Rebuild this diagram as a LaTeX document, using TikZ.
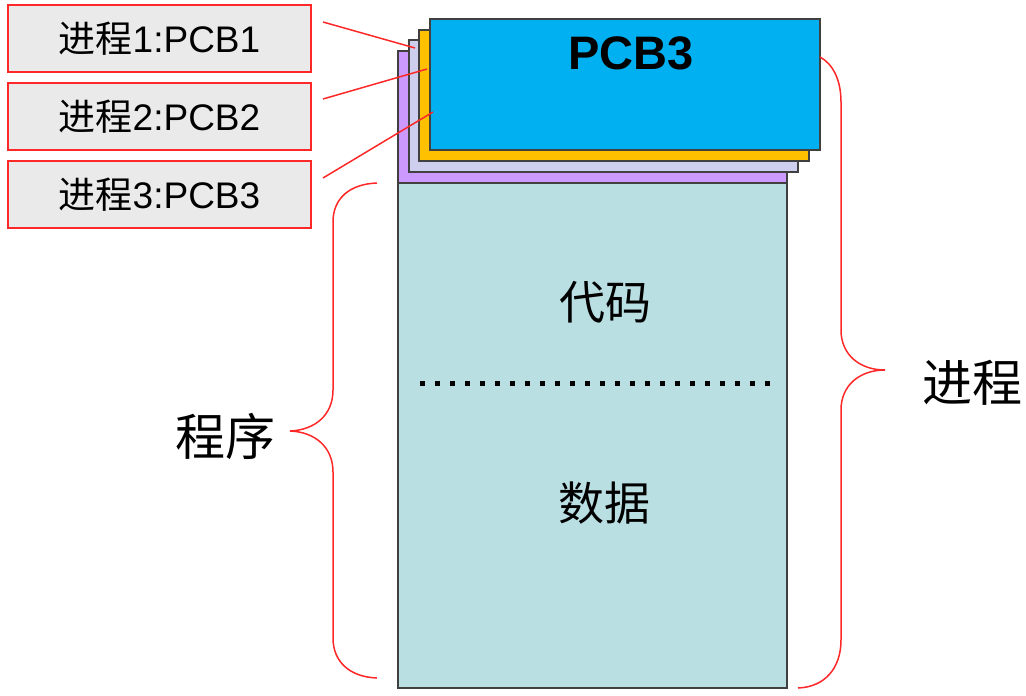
\documentclass[tikz,border=0pt]{standalone}
\usepackage{fontspec}
\setmainfont{Liberation Sans}
\newfontfamily\cjk{Noto Sans CJK SC}
\usetikzlibrary{positioning}

\definecolor{pcbblue}{RGB}{0,176,240}
\definecolor{pcborange}{RGB}{255,192,0}
\definecolor{pcblav}{RGB}{206,206,238}
\definecolor{pcbpurple}{RGB}{204,153,255}
\definecolor{progteal}{RGB}{186,223,227}
\definecolor{labgray}{RGB}{234,234,234}
\definecolor{linered}{RGB}{255,40,40}

\tikzset{
  labbox/.style={draw=linered, line width=1.5pt, fill=labgray, minimum width=303pt, minimum height=67pt, inner sep=0pt, font=\fontsize{37}{42}\selectfont},
  redline/.style={linered, line width=1.5pt},
  stack/.style={draw=black!75, line width=1.5pt},
  bigcn/.style={font=\cjk\fontsize{46}{52}\selectfont},
  sidecn/.style={font=\cjk\fontsize{50}{56}\selectfont}
}

\begin{document}
\begin{tikzpicture}[x=1pt,y=-1pt]
\useasboundingbox (0,0) rectangle (1026,696);
% labels on the left
\node[labbox] (lab1) at (159.5,38.5) {{\cjk 进程}1:PCB1};
\node[labbox, below=9.5pt of lab1] (lab2) {{\cjk 进程}2:PCB2};
\node[labbox, below=9.5pt of lab2] (lab3) {{\cjk 进程}3:PCB3};
% program body and the stacked PCBs
\filldraw[stack, fill=progteal] (398,183) rectangle (787,688);
\filldraw[stack, fill=pcbpurple] (398,51) rectangle (787,183);
\filldraw[stack, fill=pcblav] (409,40) rectangle (798,172);
\filldraw[stack, fill=pcborange] (419,30) rectangle (809,161);
\filldraw[stack, fill=pcbblue] (430,19) rectangle (820,150);
\node[font=\bfseries\fontsize{47}{52}\selectfont] (pcb) at (631,53) {PCB3};
\node[bigcn] (code) at (605,302) {代码};
\node[bigcn] (data) at (604,503) {数据};
\draw[line width=5pt, dash pattern=on 5pt off 10pt] (420,383) -- (770,383);
% pointers from the labels
\coordinate (s1) at (323,22);
\coordinate (s2) at (323,99);
\coordinate (s3) at (323,178);
\coordinate (e1) at (415,48);
\coordinate (e2) at (427,69);
\coordinate (e3) at (433,112);
\draw[redline] (s1) -- (e1);
\draw[redline] (s2) -- (e2);
\draw[redline] (s3) -- (e3);
% left brace
\draw[redline] (377,183) .. controls (350,184) and (333,198) .. (333,222)
  -- (333,390) .. controls (333,415) and (315,430) .. (290,431)
  .. controls (315,432) and (333,447) .. (333,472)
  -- (333,638) .. controls (333,662) and (350,677) .. (377,678);
\node[sidecn] (prog) at (225,436) {程序};
% right brace
\draw[redline] (820,57) .. controls (833,64) and (841,80) .. (841,102)
  -- (841,330) .. controls (841,355) and (860,370) .. (885,370)
  .. controls (860,370) and (841,385) .. (841,410)
  -- (841,640) .. controls (841,668) and (825,687) .. (798,688);
\node[sidecn] (proc) at (972,383) {进程};
\end{tikzpicture}
\end{document}
